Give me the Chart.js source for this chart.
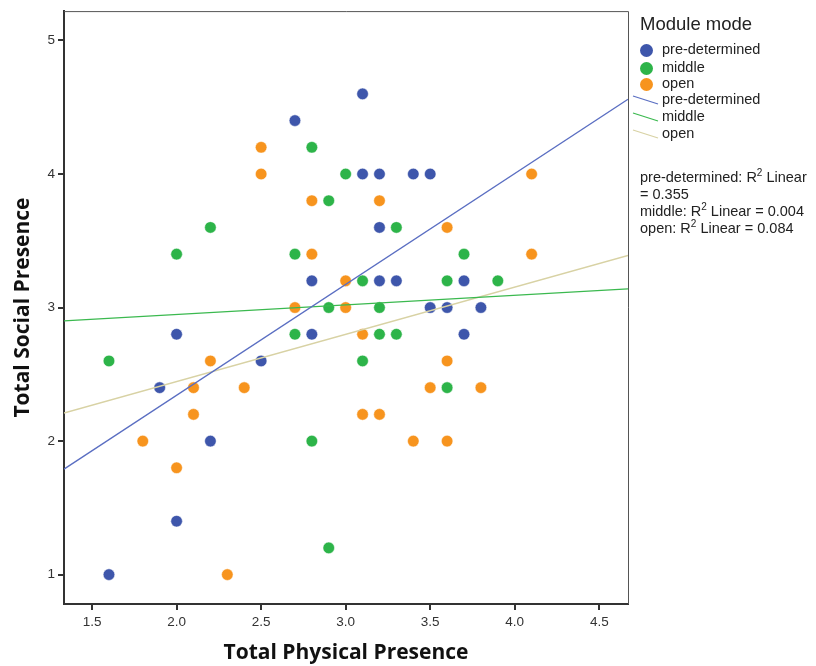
<!DOCTYPE html>
<html>
<head>
<meta charset="utf-8">
<script src="https://cdn.jsdelivr.net/npm/chart.js@4/dist/chart.umd.min.js"></script>
<style>
  html, body { margin:0; padding:0; background:#fff; }
  #wrap { position:relative; width:816px; height:666px; }
  #legend { position:absolute; left:0; top:0; width:816px; height:666px; pointer-events:none;
            font-family:"Liberation Sans", Arial, sans-serif; color:#222; }
  #legend .t { position:absolute; white-space:nowrap; line-height:1; }
  #legend .dot { position:absolute; width:13px; height:13px; border-radius:50%; }
  #legend sup { font-size:10px; line-height:0; vertical-align:6px; }
</style>
</head>
<body>
<div id="wrap">
  <canvas id="c" width="816" height="666"></canvas>
  <div id="legend"></div>
</div>
<script>
// ---- data ----
const groups = ['pre-determined', 'middle', 'open'];

// pre-determined
const preX = [3.1, 2.7, 3.1, 3.2, 3.4, 3.5, 3.2, 2.8, 3.2, 3.3, 3.7, 3.5, 3.6, 3.8, 2.0, 2.8, 3.7, 2.5, 1.9, 2.2, 2.0, 1.6];
const preY = [4.6, 4.4, 4.0, 4.0, 4.0, 4.0, 3.6, 3.2, 3.2, 3.2, 3.2, 3.0, 3.0, 3.0, 2.8, 2.8, 2.8, 2.6, 2.4, 2.0, 1.4, 1.0];

// middle
const midX = [2.8, 3.0, 2.9, 2.2, 3.3, 2.0, 2.7, 3.7, 3.1, 3.6, 3.9, 2.9, 3.2, 2.7, 3.2, 3.3, 1.6, 3.1, 3.6, 2.8, 2.9];
const midY = [4.2, 4.0, 3.8, 3.6, 3.6, 3.4, 3.4, 3.4, 3.2, 3.2, 3.2, 3.0, 3.0, 2.8, 2.8, 2.8, 2.6, 2.6, 2.4, 2.0, 1.2];

// open
const openX = [2.5, 2.5, 4.1, 2.8, 3.2, 3.6, 2.8, 4.1, 3.0, 2.7, 3.0, 3.1, 2.2, 3.6, 2.1, 2.4, 3.5, 3.8, 2.1, 3.1, 3.2, 1.8, 3.4, 3.6, 2.0, 2.3];
const openY = [4.2, 4.0, 4.0, 3.8, 3.8, 3.6, 3.4, 3.4, 3.2, 3.0, 3.0, 2.8, 2.6, 2.6, 2.4, 2.4, 2.4, 2.4, 2.2, 2.2, 2.2, 2.0, 2.0, 2.0, 1.8, 1.0];

// fit lines, ends at the plot edges
const fitX    = [1.334, 4.67];
const fitPre  = [1.79, 4.56];
const fitMid  = [2.90, 3.14];
const fitOpen = [2.21, 3.39];
const r2Text  = ['0.355', '0.004', '0.084'];

const xTicks = [1.5, 2.0, 2.5, 3.0, 3.5, 4.0, 4.5];
const yTicks = [1, 2, 3, 4, 5];

// ---- styles ----
const DOT  = ['#3e56ab', '#2db449', '#f7941e'];
const LINE = ['#5a6ec2', '#3bb94f', '#d8d2a4'];
const AXIS = '#333';

const pts  = (xs, ys) => xs.map((x, i) => ({ x, y: ys[i] }));

const scatterSet = (label, xs, ys, col) => ({
  type: 'scatter', label, data: pts(xs, ys), order: 2,
  backgroundColor: col, borderColor: 'rgba(255,255,255,0.5)', borderWidth: 1,
  pointRadius: 5.8, pointHoverRadius: 5.8
});
const fitSet = (label, ys, col) => ({
  type: 'line', label, data: pts(fitX, ys), order: 1,
  borderColor: col, borderWidth: 1.3, pointRadius: 0, fill: false, tension: 0
});

const frame = {
  id: 'frame',
  afterDatasetsDraw(chart) {
    const { ctx, chartArea: a } = chart;
    ctx.save();
    ctx.strokeStyle = '#555';
    ctx.lineWidth = 1;
    ctx.beginPath();
    ctx.moveTo(a.left, a.top + 0.5); ctx.lineTo(a.right + 0.5, a.top + 0.5);
    ctx.lineTo(a.right + 0.5, a.bottom);
    ctx.stroke();
    ctx.restore();
  }
};

new Chart(document.getElementById('c').getContext('2d'), {
  data: {
    datasets: [
      scatterSet(groups[0], preX, preY, DOT[0]),
      scatterSet(groups[1], midX, midY, DOT[1]),
      scatterSet(groups[2], openX, openY, DOT[2]),
      fitSet(groups[0], fitPre, LINE[0]),
      fitSet(groups[1], fitMid, LINE[1]),
      fitSet(groups[2], fitOpen, LINE[2])
    ]
  },
  options: {
    responsive: false, animation: false,
    layout: { padding: { top: 7, right: 188, bottom: 0, left: 0 } },
    plugins: { legend: { display: false }, tooltip: { enabled: false } },
    scales: {
      x: {
        type: 'linear', min: 1.334, max: 4.67,
        afterBuildTicks: s => { s.ticks = xTicks.map(v => ({ value: v })); },
        afterFit: s => { s.height = 62; },
        grid: { drawOnChartArea: false, drawTicks: true, tickLength: 6, color: AXIS, lineWidth: 2 },
        border: { display: true, color: AXIS, width: 2 },
        ticks: { color: AXIS, padding: 4, font: { family: 'Liberation Sans', size: 13.5 },
                 callback: v => Number(v).toFixed(1) },
        title: { display: true, text: 'Total Physical Presence', color: '#111',
                 font: { family: 'Open Sans', size: 21, weight: 'bold' }, padding: { top: 0, bottom: 0 } }
      },
      y: {
        type: 'linear', min: 0.78, max: 5.22,
        afterBuildTicks: s => { s.ticks = yTicks.map(v => ({ value: v })); },
        afterFit: s => { s.width = 64; },
        grid: { drawOnChartArea: false, drawTicks: true, tickLength: 6, color: AXIS, lineWidth: 2 },
        border: { display: true, color: AXIS, width: 2 },
        ticks: { color: AXIS, padding: 3, font: { family: 'Liberation Sans', size: 13.5 },
                 callback: v => String(v) },
        title: { display: true, text: 'Total Social Presence', color: '#111',
                 font: { family: 'Open Sans', size: 21, weight: 'bold' }, padding: { top: 10, bottom: 0 } }
      }
    }
  },
  plugins: [frame]
});

// ---- legend on the right ----
(function(){
  const box = document.getElementById('legend');
  const add = (html, left, top, size) => {
    const d = document.createElement('div');
    d.className = 't';
    d.style.left = left + 'px'; d.style.top = top + 'px'; d.style.fontSize = size + 'px';
    d.innerHTML = html;
    box.appendChild(d);
  };

  add('Module mode', 640, 15, 18.5);

  const dotY = [50, 68, 84];
  groups.forEach((g, i) => {
    const d = document.createElement('div');
    d.className = 'dot';
    d.style.left = (646 - 6.5) + 'px'; d.style.top = (dotY[i] - 6.5) + 'px';
    d.style.background = DOT[i];
    box.appendChild(d);
    add(g, 662, dotY[i] - 8, 14.5);
  });

  const lineY = [100, 117, 134];
  const svgNS = 'http://www.w3.org/2000/svg';
  groups.forEach((g, i) => {
    const svg = document.createElementNS(svgNS, 'svg');
    svg.setAttribute('width', 30); svg.setAttribute('height', 14);
    svg.style.position = 'absolute';
    svg.style.left = '631px'; svg.style.top = (lineY[i] - 5) + 'px';
    const ln = document.createElementNS(svgNS, 'line');
    ln.setAttribute('x1', 2); ln.setAttribute('y1', 1);
    ln.setAttribute('x2', 27); ln.setAttribute('y2', 9);
    ln.setAttribute('stroke', LINE[i]); ln.setAttribute('stroke-width', 1.3);
    svg.appendChild(ln);
    box.appendChild(svg);
    add(g, 662, lineY[i] - 8, 14.5);
  });

  add('pre-determined: R<sup>2</sup> Linear', 640, 170, 14.5);
  add('= ' + r2Text[0], 640, 187, 14.5);
  add('middle: R<sup>2</sup> Linear = ' + r2Text[1], 640, 204, 14.5);
  add('open: R<sup>2</sup> Linear = ' + r2Text[2], 640, 221, 14.5);
})();
</script>
</body>
</html>
